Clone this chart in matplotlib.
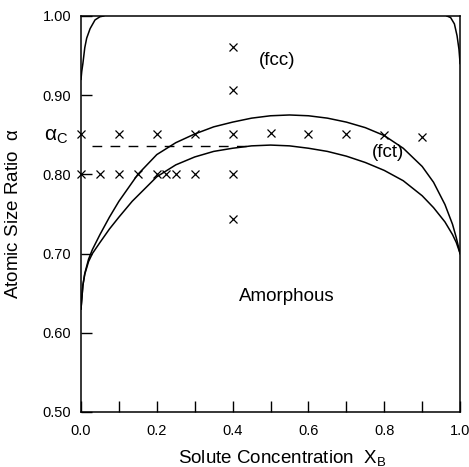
import matplotlib
matplotlib.use("Agg")
import matplotlib.pyplot as plt

plt.rcParams['font.family'] = ['Liberation Sans', 'DejaVu Sans']
plt.rcParams['mathtext.fontset'] = 'custom'
plt.rcParams['mathtext.rm'] = 'Liberation Sans'
plt.rcParams['mathtext.it'] = 'Liberation Sans'

# Experimental points (solute concentration, atomic size ratio)
pts_x = [0.0, 0.1, 0.2, 0.3, 0.4, 0.5, 0.6, 0.7, 0.8, 0.9,
         0.0, 0.05, 0.1, 0.15, 0.2, 0.225, 0.25, 0.3, 0.4,
         0.4, 0.4, 0.4]
pts_y = [0.851, 0.851, 0.851, 0.851, 0.851, 0.852, 0.851, 0.851, 0.850, 0.847,
         0.800, 0.800, 0.800, 0.800, 0.800, 0.800, 0.800, 0.800, 0.800,
         0.961, 0.907, 0.744]

# Outer boundary curve
outer_x = [0.0, 0.005, 0.01, 0.02, 0.03, 0.05, 0.075, 0.1, 0.15, 0.2, 0.25, 0.3,
           0.35, 0.4, 0.45, 0.5, 0.55, 0.6, 0.65, 0.7, 0.75, 0.8, 0.85, 0.9,
           0.93, 0.96, 0.98, 0.99, 1.0]
outer_y = [0.630, 0.660, 0.675, 0.693, 0.705, 0.724, 0.746, 0.766, 0.800, 0.825,
           0.840, 0.851, 0.860, 0.866, 0.871, 0.874, 0.875, 0.874, 0.871, 0.866,
           0.859, 0.849, 0.833, 0.810, 0.790, 0.762, 0.737, 0.720, 0.700]

# Inner boundary curve (fct)
inner_x = [0.0, 0.005, 0.01, 0.02, 0.03, 0.05, 0.075, 0.1, 0.135, 0.2, 0.25, 0.3,
           0.35, 0.4, 0.45, 0.5, 0.55, 0.6, 0.65, 0.7, 0.75, 0.8, 0.85, 0.9,
           0.93, 0.96, 0.98, 0.99, 1.0]
inner_y = [0.630, 0.660, 0.674, 0.690, 0.700, 0.714, 0.731, 0.746, 0.766, 0.797,
           0.812, 0.822, 0.829, 0.833, 0.836, 0.837, 0.836, 0.833, 0.829, 0.823,
           0.815, 0.805, 0.792, 0.773, 0.758, 0.740, 0.724, 0.714, 0.700]

# fcc boundary near pure elements
fccL_x = [0.0, 0.002, 0.005, 0.01, 0.015, 0.024, 0.037, 0.05, 0.06]
fccL_y = [0.920, 0.930, 0.940, 0.960, 0.972, 0.984, 0.995, 0.999, 1.000]
fccR_x = [0.965, 0.975, 0.985, 0.992, 0.997, 1.0]
fccR_y = [1.000, 0.998, 0.990, 0.975, 0.958, 0.940]

# critical alpha dashed line
dash_x = [0.03, 0.45]
alpha_c = 0.836

xticks = [0.0, 0.1, 0.2, 0.3, 0.4, 0.5, 0.6, 0.7, 0.8, 0.9, 1.0]
xticklabels = ['0.0', '', '0.2', '', '0.4', '', '0.6', '', '0.8', '', '1.0']
yticks = [0.50, 0.60, 0.70, 0.80, 0.90, 1.00]
yticklabels = ['0.50', '0.60', '0.70', '0.80', '0.90', '1.00']

fig = plt.figure(figsize=(4.69, 4.67), dpi=100)
ax = fig.add_axes([0.1727, 0.1178, 0.8083, 0.848])

lw = 1.1
ax.plot(outer_x, outer_y, color='black', lw=lw)
ax.plot(inner_x, inner_y, color='black', lw=lw)
ax.plot(fccL_x, fccL_y, color='black', lw=lw)
ax.plot(fccR_x, fccR_y, color='black', lw=lw)
ax.plot(dash_x, [alpha_c, alpha_c], color='black', lw=1.0, dashes=(7, 6))
ax.plot(pts_x, pts_y, linestyle='none', marker='x', color='black',
        markersize=6.0, markeredgewidth=0.9, clip_on=False)

ax.set_xlim(0, 1.0)
ax.set_ylim(0.5, 1.0)
ax.set_xticks(xticks)
ax.set_xticklabels(xticklabels)
ax.set_yticks(yticks)
ax.set_yticklabels(yticklabels)
ax.tick_params(direction='in', length=8, width=1.0, labelsize=10.5, pad=7)
ax.tick_params(axis='x', pad=9)
for s in ax.spines.values():
    s.set_linewidth(1.1)

ax.text(-0.035, 0.848, r'$\alpha_\mathrm{C}$', transform=ax.transData,
        ha='right', va='center', fontsize=15)

ax.text(0.517, 0.944, '(fcc)', ha='center', va='center', fontsize=13.5)
ax.text(0.81, 0.827, '(fct)', ha='center', va='center', fontsize=13.5)
ax.text(0.543, 0.646, 'Amorphous', ha='center', va='center', fontsize=13.5)

ax.set_ylabel(r'Atomic Size Ratio  $\alpha$', fontsize=13.5)
ax.set_xlabel(r'Solute Concentration  X$_\mathrm{B}$', fontsize=13.5)
ax.xaxis.set_label_coords(0.53, -0.09)
ax.yaxis.set_label_coords(-0.155, 0.5)

fig.savefig('out.png', dpi=100)
